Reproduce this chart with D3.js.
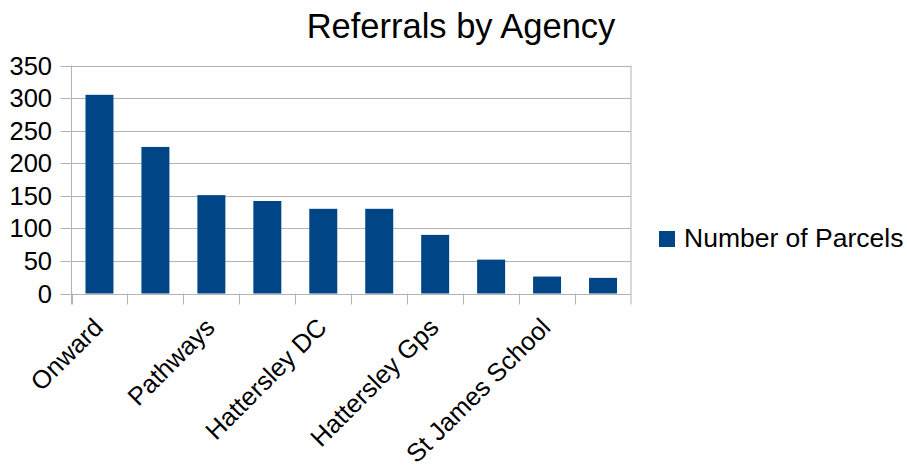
<!DOCTYPE html>
<html>
<head>
<meta charset="utf-8">
<script src="https://cdn.jsdelivr.net/npm/d3@7"></script>
<style>
  body { margin: 0; background: #fff; }
  text { font-family: "Liberation Sans", Arial, sans-serif; fill: #000; }
</style>
</head>
<body>
<script>
// chart data
const agencies = ["Onward", "Agency 2", "Pathways", "Agency 4", "Hattersley DC",
                  "Agency 6", "Hattersley Gps", "Agency 8", "St James School", "Agency 10"];
const parcels = [305, 225, 151, 142, 130, 130, 90, 52, 26, 24];
const yTicks = [0, 50, 100, 150, 200, 250, 300, 350];
const seriesName = "Number of Parcels";
const chartTitle = "Referrals by Agency";

const width = 907, height = 470;
const plot = { left: 71.5, right: 631, top: 65.5, bottom: 293.5 };

let svg = d3.select("body").append("svg")
    .attr("width", width)
    .attr("height", height);

let x = d3.scaleBand()
    .domain(agencies)
    .range([plot.left, plot.right])
    .paddingInner(0.5)
    .paddingOuter(0.25);

let y = d3.scaleLinear()
    .domain([0, 350])
    .range([plot.bottom, plot.top]);

/** grid lines + y ticks */
svg.append("g")
    .selectAll("line")
    .data(yTicks)
    .enter().append("line")
    .attr("x1", plot.left - 11)
    .attr("x2", plot.right)
    .attr("y1", d => Math.round(y(d)) + 0.5)
    .attr("y2", d => Math.round(y(d)) + 0.5)
    .attr("stroke", "#b3b3b3")
    .attr("stroke-width", 1);

// left and right frame
svg.append("line")
    .attr("x1", plot.left).attr("x2", plot.left)
    .attr("y1", plot.top).attr("y2", plot.bottom + 11)
    .attr("stroke", "#b3b3b3");
svg.append("line")
    .attr("x1", plot.right).attr("x2", plot.right)
    .attr("y1", plot.top).attr("y2", plot.bottom + 11)
    .attr("stroke", "#b3b3b3");

// category boundary ticks
svg.append("g")
    .selectAll("line")
    .data(agencies)
    .enter().append("line")
    .attr("x1", d => Math.round(x(d) - x.bandwidth() / 2) + 0.5)
    .attr("x2", d => Math.round(x(d) - x.bandwidth() / 2) + 0.5)
    .attr("y1", plot.bottom)
    .attr("y2", plot.bottom + 11)
    .attr("stroke", "#b3b3b3");

// y labels
svg.append("g")
    .selectAll("text")
    .data(yTicks)
    .enter().append("text")
    .attr("x", 52)
    .attr("y", d => y(d) + 9)
    .attr("text-anchor", "end")
    .attr("font-size", 25.5)
    .text(d => d);

// bars
svg.append("g")
    .selectAll("rect")
    .data(parcels)
    .enter().append("rect")
    .attr("x", (d, i) => x(agencies[i]))
    .attr("width", x.bandwidth())
    .attr("y", d => y(d))
    .attr("height", d => y(0) - y(d))
    .attr("fill", "#004586");

// x labels, every second one
svg.append("g")
    .selectAll("text")
    .data(agencies.filter((d, i) => i % 2 === 0))
    .enter().append("text")
    .attr("transform", d => `translate(${x(d) + x.bandwidth() / 2 + 5}, 329) rotate(-45)`)
    .attr("text-anchor", "end")
    .attr("font-size", 25.5)
    .text(d => d);

// title
svg.append("text")
    .attr("x", 461)
    .attr("y", 38)
    .attr("text-anchor", "middle")
    .attr("font-size", 34.5)
    .text(chartTitle);

// legend
svg.append("rect")
    .attr("x", 659).attr("y", 231)
    .attr("width", 16).attr("height", 16)
    .attr("fill", "#004586");
svg.append("text")
    .attr("x", 684)
    .attr("y", 247)
    .attr("font-size", 26.5)
    .text(seriesName);
</script>
</body>
</html>
